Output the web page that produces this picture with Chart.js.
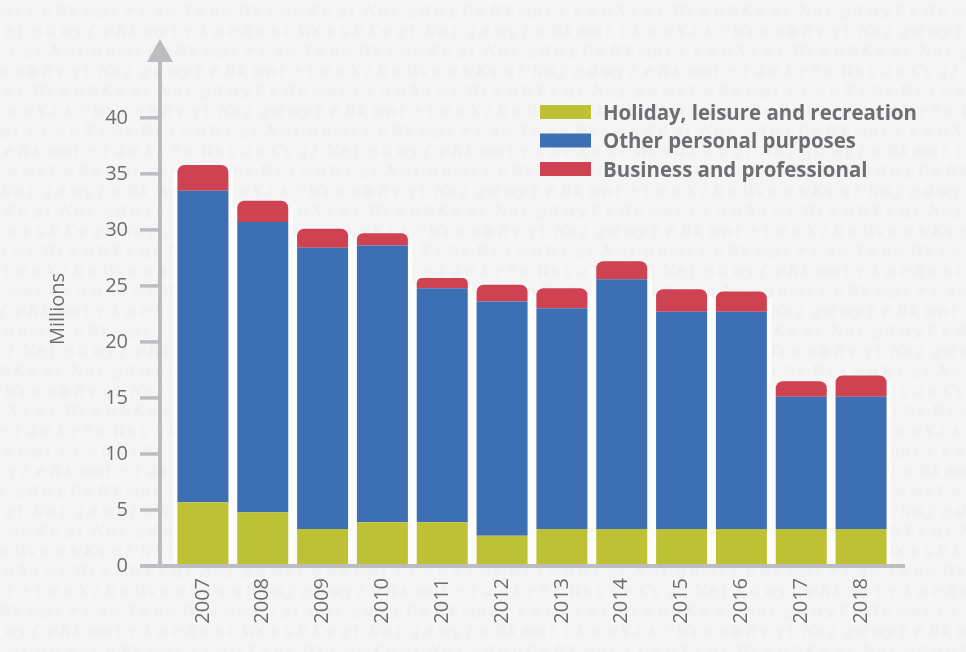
<!DOCTYPE html>
<html>
<head>
<meta charset="utf-8">
<title>Trips by purpose</title>
<script src="https://cdn.jsdelivr.net/npm/chart.js@4.4.1/dist/chart.umd.min.js"></script>
<style>
  html, body { margin: 0; padding: 0; background: #f5f5f5; }
  #wrap { width: 966px; height: 652px; }
</style>
</head>
<body>
<div id="wrap"><canvas id="chart" width="966" height="652"></canvas></div>
<script>
  "use strict";

  const years = ["2007","2008","2009","2010","2011","2012","2013","2014","2015","2016","2017","2018"];
  const holiday  = [5.7, 4.8, 3.3, 3.9, 3.9, 2.7, 3.3, 3.3, 3.3, 3.3, 3.3, 3.3];
  const personal = [27.8, 25.9, 25.1, 24.7, 20.9, 20.9, 19.7, 22.3, 19.4, 19.4, 11.8, 11.8];
  const business = [2.3, 1.9, 1.7, 1.1, 0.9, 1.5, 1.8, 1.6, 2.0, 1.8, 1.4, 1.9];
  const yTicks   = [0, 5, 10, 15, 20, 25, 30, 35, 40];

  const seriesNames  = ["Holiday, leisure and recreation", "Other personal purposes", "Business and professional"];
  const seriesColors = ["#bec134", "#3d6fb4", "#cf4252"];

  const GREY = "#bcbdc0";
  const INK  = "#6d6e71";
  const FONT = '"Open Sans", "Noto Sans", sans-serif';

  // faint scribbled paper behind the chart
  const SCRIBBLE = "wrxnkzvytsjmhqfaugpcleobdiWNRXK";

  const paper = {
    id: "paper",
    beforeDraw(chart) {
      const ctx = chart.ctx;
      ctx.save();
      ctx.fillStyle = "#f5f5f5";
      ctx.fillRect(0, 0, chart.width, chart.height);
      ctx.filter = "blur(0.8px)";
      ctx.font = 'italic 15px "DejaVu Serif", serif';
      ctx.fillStyle = "rgba(0,0,0,0.035)";
      ctx.textBaseline = "alphabetic";
      let row = 0;
      for (let y = 16; y < chart.height + 20; y += 20, row++) {
        let col = 0;
        for (let x = (row % 3) * 4; x < chart.width; x += 14, col++) {
          const ch = SCRIBBLE[(col * 7 + row * 3) % SCRIBBLE.length];
          ctx.fillText(ch, x, y);
        }
      }
      ctx.restore();
    },
    beforeDatasetsDraw(chart) {
      // white halo around each stacked column
      const ctx = chart.ctx;
      const y = chart.scales.y;
      const base = chart.getDatasetMeta(0).data;
      ctx.save();
      ctx.fillStyle = "#fcfcfc";
      base.forEach((bar, i) => {
        const total = holiday[i] + personal[i] + business[i];
        const top = y.getPixelForValue(total) + 7;
        const half = bar.width / 2 + 4.5;
        ctx.fillRect(bar.x - half, top, half * 2, y.getPixelForValue(0) - top);
      });
      ctx.restore();
    }
  };

  const frame = {
    id: "frame",
    afterDatasetsDraw(chart) {
      const ctx = chart.ctx;
      const area = chart.chartArea;
      const y = chart.scales.y;
      const axisX = area.left - 13;
      const zeroY = y.getPixelForValue(0);

      ctx.save();
      ctx.strokeStyle = GREY;
      ctx.fillStyle = GREY;

      // vertical axis with arrow head
      ctx.lineWidth = 4;
      ctx.beginPath();
      ctx.moveTo(axisX, zeroY);
      ctx.lineTo(axisX, area.top - 11);
      ctx.stroke();
      ctx.beginPath();
      ctx.moveTo(axisX, area.top - 34);
      ctx.lineTo(axisX + 13, area.top - 11);
      ctx.lineTo(axisX - 13, area.top - 11);
      ctx.closePath();
      ctx.fill();

      // tick marks
      ctx.lineWidth = 3.5;
      yTicks.forEach(v => {
        const py = y.getPixelForValue(v);
        ctx.beginPath();
        ctx.moveTo(axisX - 20, py);
        ctx.lineTo(axisX, py);
        ctx.stroke();
      });

      // horizontal axis
      ctx.lineWidth = 4;
      ctx.beginPath();
      ctx.moveTo(axisX - 20, zeroY);
      ctx.lineTo(area.right + 14, zeroY);
      ctx.stroke();

      // axis title
      ctx.fillStyle = INK;
      ctx.font = "20px " + FONT;
      ctx.textAlign = "center";
      ctx.textBaseline = "middle";
      ctx.translate(58, 309);
      ctx.rotate(-Math.PI / 2);
      ctx.fillText("Millions", 0, 0);
      ctx.restore();

      // legend
      ctx.save();
      ctx.font = "bold 22px " + FONT;
      ctx.textBaseline = "alphabetic";
      ctx.textAlign = "left";
      const squash = 314 / ctx.measureText(seriesNames[0]).width;
      seriesNames.forEach((name, i) => {
        const cy = 112 + i * 28.5;
        ctx.fillStyle = seriesColors[i];
        ctx.fillRect(540, cy - 7, 51, 14);
        ctx.save();
        ctx.translate(603, cy + 7.5);
        ctx.scale(squash, 1);
        ctx.fillStyle = INK;
        ctx.fillText(name, 0, 0);
        ctx.restore();
      });
      ctx.restore();
    }
  };

  const series = [holiday, personal, business];

  new Chart(document.getElementById("chart"), {
    type: "bar",
    data: {
      labels: years,
      datasets: series.map((data, i) => ({
        label: seriesNames[i],
        data,
        backgroundColor: seriesColors[i],
        borderWidth: 0,
        borderSkipped: false,
        borderRadius: i === 2 ? { topLeft: 7, topRight: 7, bottomLeft: 0, bottomRight: 0 } : 0,
        barPercentage: 0.852,
        categoryPercentage: 1
      }))
    },
    options: {
      responsive: false,
      animation: false,
      layout: { padding: { top: 73, right: 75, bottom: 0, left: 0 } },
      plugins: { legend: { display: false }, tooltip: { enabled: false } },
      scales: {
        x: {
          stacked: true,
          offset: true,
          grid: { display: false, drawTicks: false },
          border: { display: false },
          ticks: { minRotation: 90, maxRotation: 90, padding: 12, color: INK, font: { family: FONT, size: 20 } },
          afterFit: s => { s.height = 86; }
        },
        y: {
          stacked: true,
          min: 0,
          max: 44,
          grid: { display: false, drawTicks: false },
          border: { display: false },
          ticks: { padding: 45, color: INK, font: { family: FONT, size: 20 } },
          afterBuildTicks: s => { s.ticks = yTicks.map(v => ({ value: v })); },
          afterFit: s => { s.width = 173; }
        }
      }
    },
    plugins: [paper, frame]
  });
</script>
</body>
</html>
